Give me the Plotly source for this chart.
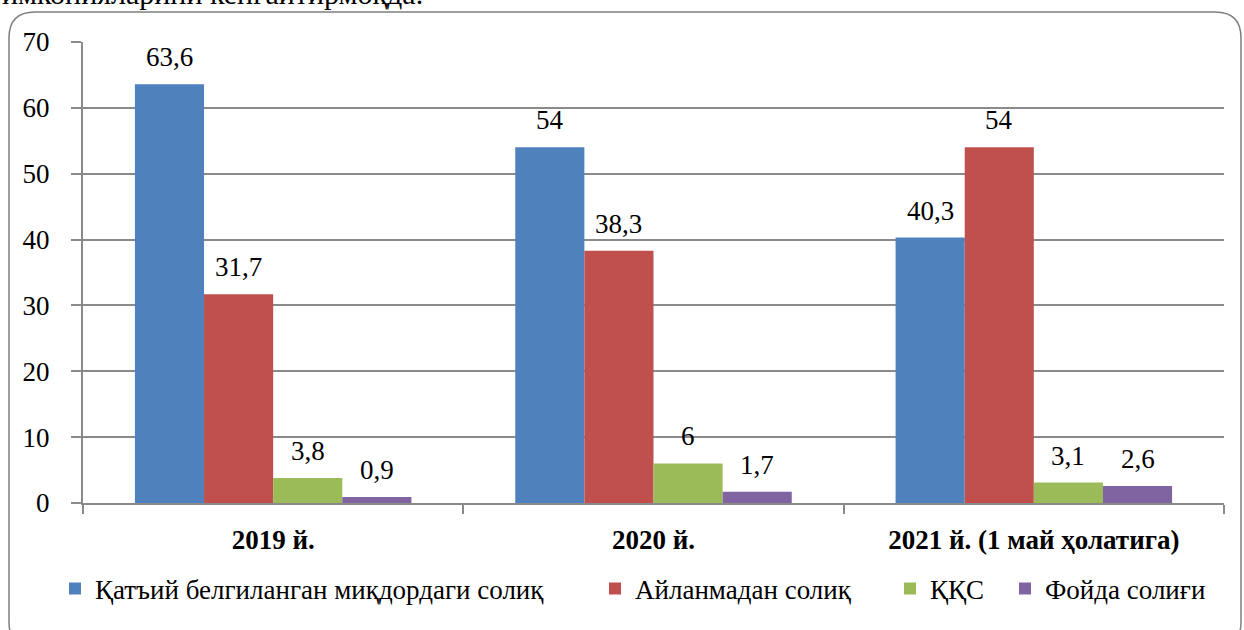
import plotly.graph_objects as go

categories = ["2019 й.", "2020 й.", "2021 й. (1 май ҳолатига)"]
series_names = ["Қатъий белгиланган миқдордаги солиқ", "Айланмадан солиқ", "ҚҚС", "Фойда солиғи"]
fixed_tax = [63.6, 54, 40.3]
turnover_tax = [31.7, 38.3, 54]
vat = [3.8, 6, 3.1]
profit_tax = [0.9, 1.7, 2.6]
y_ticks = [0, 10, 20, 30, 40, 50, 60, 70]
heading = "имконияларини кенгайтирмоқда."

colors = ["#4F81BD", "#C0504D", "#9BBB59", "#8064A2"]
values = [fixed_tax, turnover_tax, vat, profit_tax]

FW, FH = 1244, 630
L, R, T, B = 83, 20, 42, 127
W = FW - L - R
H = FH - T - B
BARGAP = 0.273
FONT = "Liberation Serif"
GRID = "#8a8a8a"


def px_x(px):
    return (px - L) / W


def px_y(py):
    return (FH - B - py) / H


fig = go.Figure()
legend_ids = ["legend", "legend2", "legend3", "legend4"]
for name, vals, col, lg in zip(series_names, values, colors, legend_ids):
    fig.add_trace(go.Bar(
        name=name, x=categories, y=vals, marker=dict(color=col, line=dict(width=0)),
        legend=lg,
    ))

# data labels
bar_w = W / len(categories) * (1 - BARGAP) / len(series_names)
for i, vals in enumerate(values):
    off = (i - (len(series_names) - 1) / 2) * bar_w
    for c, v in zip(categories, vals):
        fig.add_annotation(
            x=c, y=v, xref="x", yref="y", text=f"{v:g}".replace(".", ","),
            showarrow=False, xshift=off, yshift=27, yanchor="middle",
            font=dict(family=FONT, size=27, color="#000000"),
        )

# heading text cut off at the top
fig.add_annotation(
    x=px_x(0), y=px_y(12), xref="paper", yref="paper", text=heading,
    showarrow=False, xanchor="left", yanchor="bottom",
    font=dict(family=FONT, size=30, color="#000000"),
)

# rounded frame
bl, br, bt, bb, r = 9, 1241, 12, 648, 26
path = (
    f"M {px_x(bl + r)} {px_y(bt)} L {px_x(br - r)} {px_y(bt)} "
    f"Q {px_x(br)} {px_y(bt)} {px_x(br)} {px_y(bt + r)} "
    f"L {px_x(br)} {px_y(bb - r)} Q {px_x(br)} {px_y(bb)} {px_x(br - r)} {px_y(bb)} "
    f"L {px_x(bl + r)} {px_y(bb)} Q {px_x(bl)} {px_y(bb)} {px_x(bl)} {px_y(bb - r)} "
    f"L {px_x(bl)} {px_y(bt + r)} Q {px_x(bl)} {px_y(bt)} {px_x(bl + r)} {px_y(bt)} Z"
)
fig.add_shape(type="path", path=path, xref="paper", yref="paper",
              line=dict(color="#7f7f7f", width=1.5), layer="below")

legend_text_px = [95, 635, 930, 1045]
legend_cfg = {}
for lg, tx in zip(legend_ids, legend_text_px):
    legend_cfg[lg] = dict(
        x=px_x(tx - 40), y=px_y(589), xanchor="left", yanchor="middle",
        orientation="h", bgcolor="rgba(0,0,0,0)", borderwidth=0,
        font=dict(family=FONT, size=27, color="#000000"),
        itemwidth=30,
    )

fig.update_layout(
    width=FW, height=FH,
    margin=dict(l=L, r=R, t=T, b=B, pad=0, autoexpand=False),
    paper_bgcolor="white", plot_bgcolor="white",
    barmode="group", bargap=BARGAP, bargroupgap=0,
    showlegend=True,
    **legend_cfg,
    xaxis=dict(
        type="category", showgrid=False, showline=True, linecolor=GRID, linewidth=2,
        ticks="outside", tickson="boundaries", ticklen=9, tickcolor=GRID, tickwidth=2,
        tickfont=dict(family=FONT, size=27, color="#000000", weight="bold"),
        ticklabelstandoff=12, automargin=False,
    ),
    yaxis=dict(
        range=[0, 70], tickvals=y_ticks, showgrid=True, gridcolor=GRID, gridwidth=2,
        showline=True, linecolor=GRID, linewidth=2, zeroline=False,
        ticks="outside", ticklen=10, tickcolor=GRID, tickwidth=2,
        tickfont=dict(family=FONT, size=27, color="#000000"),
        ticklabelstandoff=16, automargin=False,
    ),
)

fig.write_html(
    "out.html",
    config={"displayModeBar": False},
    post_script="document.body.style.margin='0px';document.body.style.overflow='hidden';",
)
